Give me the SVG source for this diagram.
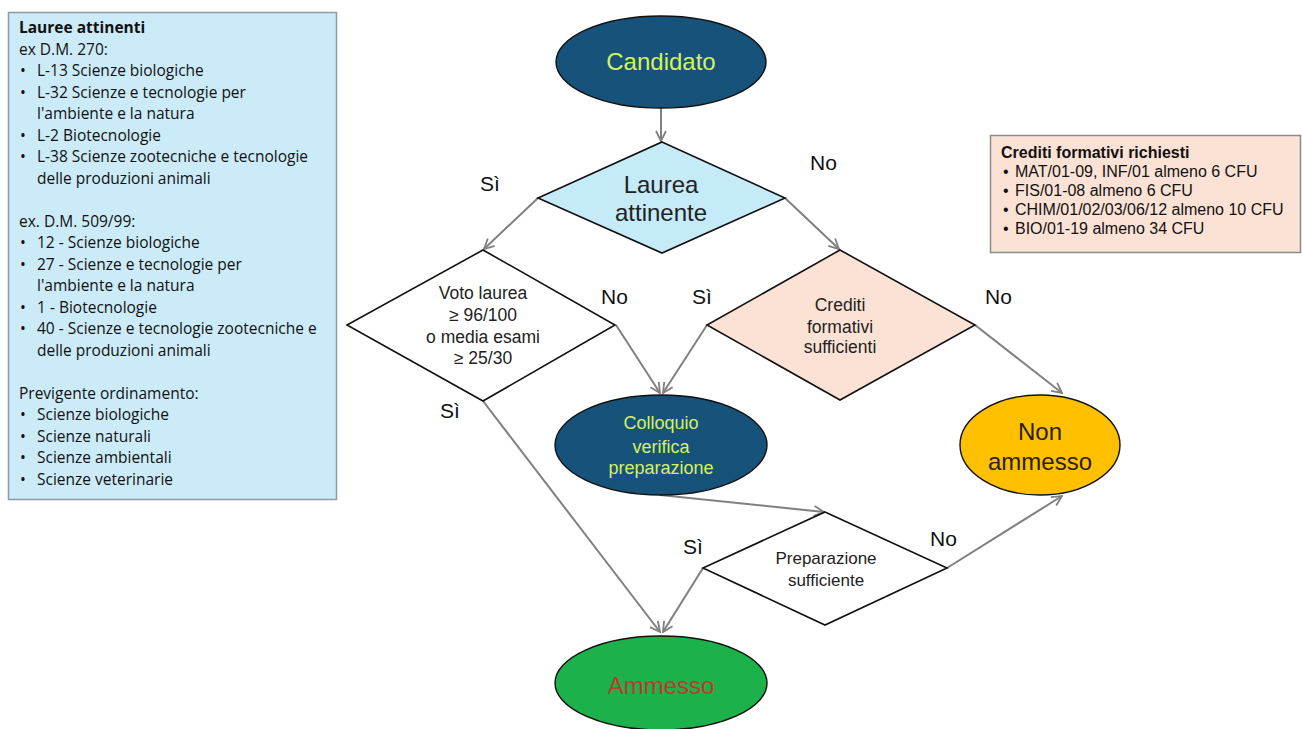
<svg xmlns="http://www.w3.org/2000/svg" width="1302" height="729" viewBox="0 0 1302 729">
<defs>
<marker id="arr" viewBox="0 0 12 12" refX="11" refY="6" markerWidth="12" markerHeight="12" markerUnits="userSpaceOnUse" orient="auto">
<path d="M1,1 L11,6 L1,11" fill="none" stroke="#808080" stroke-width="1.8"/>
</marker>
<style>
.box{font-family:"Open Sans",Lato,sans-serif;font-size:15.5px;fill:#111}
.rb{font-family:"Liberation Sans",Arial,sans-serif;font-size:16px;fill:#111}
.hb{font-weight:bold}
.fc{font-family:"Liberation Sans",Arial,sans-serif;text-anchor:middle}
.lbl{font-family:"Liberation Sans",Arial,sans-serif;font-size:21px;fill:#111}
.dia{stroke:#111;stroke-width:1.6}
.ell{stroke:#111;stroke-width:1.4}
.con line{stroke:#808080;stroke-width:2;marker-end:url(#arr)}
</style>
</defs>
<rect width="1302" height="729" fill="#fff"/>

<g id="lauree-box">
<rect x="8.5" y="12.5" width="328" height="487" fill="#CCEBF8" stroke="#8B9AA3" stroke-width="1.5"/>
<text class="box hb" x="19" y="33">Lauree attinenti</text>
<text class="box" x="19" y="54.5">ex D.M. 270:</text>
<g class="box">
<text x="20" y="76">•</text><text x="37" y="76">L-13 Scienze biologiche</text>
<text x="20" y="97.5">•</text><text x="37" y="97.5">L-32 Scienze e tecnologie per</text>
<text x="37" y="119">l'ambiente e la natura</text>
<text x="20" y="140.5">•</text><text x="37" y="140.5">L-2 Biotecnologie</text>
<text x="20" y="162">•</text><text x="37" y="162">L-38 Scienze zootecniche e tecnologie</text>
<text x="37" y="183.5">delle produzioni animali</text>
</g>
<text class="box" x="19" y="226.5">ex. D.M. 509/99:</text>
<g class="box">
<text x="20" y="248">•</text><text x="37" y="248">12 - Scienze biologiche</text>
<text x="20" y="269.5">•</text><text x="37" y="269.5">27 - Scienze e tecnologie per</text>
<text x="37" y="291">l'ambiente e la natura</text>
<text x="20" y="312.5">•</text><text x="37" y="312.5">1 - Biotecnologie</text>
<text x="20" y="334">•</text><text x="37" y="334">40 - Scienze e tecnologie zootecniche e</text>
<text x="37" y="355.5">delle produzioni animali</text>
</g>
<text class="box" x="19" y="398.5">Previgente ordinamento:</text>
<g class="box">
<text x="20" y="420">•</text><text x="37" y="420">Scienze biologiche</text>
<text x="20" y="441.5">•</text><text x="37" y="441.5">Scienze naturali</text>
<text x="20" y="463">•</text><text x="37" y="463">Scienze ambientali</text>
<text x="20" y="484.5">•</text><text x="37" y="484.5">Scienze veterinarie</text>
</g>
</g>

<g id="crediti-box">
<rect x="990.5" y="135.5" width="310" height="117" fill="#FBE2D5" stroke="#8B8B8B" stroke-width="1.5"/>
<text class="rb hb" x="1001" y="158">Crediti formativi richiesti</text>
<g class="rb">
<text x="1003" y="177">•</text><text x="1015" y="177">MAT/01-09, INF/01 almeno 6 CFU</text>
<text x="1003" y="196">•</text><text x="1015" y="196">FIS/01-08 almeno 6 CFU</text>
<text x="1003" y="215">•</text><text x="1015" y="215">CHIM/01/02/03/06/12 almeno 10 CFU</text>
<text x="1003" y="234">•</text><text x="1015" y="234">BIO/01-19 almeno 34 CFU</text>
</g>
</g>

<g class="con" id="connectors">
<line x1="661" y1="108" x2="661" y2="141"/>
<line x1="538" y1="198" x2="484" y2="249"/>
<line x1="785" y1="198" x2="839" y2="249"/>
<line x1="616" y1="325" x2="660" y2="393"/>
<line x1="707" y1="325" x2="663" y2="393"/>
<line x1="975" y1="325" x2="1062" y2="393"/>
<line x1="483" y1="401" x2="660" y2="632"/>
<line x1="660" y1="495" x2="824" y2="512"/>
<line x1="703" y1="568" x2="663" y2="632"/>
<line x1="947" y1="568" x2="1062" y2="496"/>
</g>

<g id="candidato">
<ellipse class="ell" cx="661" cy="62" rx="105" ry="46" fill="#17527A"/>
<text class="fc" x="661" y="70" font-size="24" fill="#D6F25E">Candidato</text>
</g>

<g id="laurea-attinente">
<polygon class="dia" points="662,142 785,198 662,253 538,198" fill="#C5EAF8"/>
<text class="fc" x="661" y="193" font-size="24" fill="#222">Laurea</text>
<text class="fc" x="661" y="221" font-size="24" fill="#222">attinente</text>
</g>

<g id="voto-laurea">
<polygon class="dia" points="483,250 615,325 483,401 347,325" fill="#fff"/>
<g class="fc" font-size="17.5" fill="#222">
<text x="483" y="299">Voto laurea</text>
<text x="483" y="321">≥ 96/100</text>
<text x="483" y="343">o media esami</text>
<text x="483" y="364">≥ 25/30</text>
</g>
</g>

<g id="crediti-sufficienti">
<polygon class="dia" points="840,250 975,325 840,400 707,325" fill="#FBE2D5"/>
<g class="fc" font-size="17.5" fill="#222">
<text x="840" y="311">Crediti</text>
<text x="840" y="333">formativi</text>
<text x="840" y="353">sufficienti</text>
</g>
</g>

<g id="colloquio">
<ellipse class="ell" cx="661" cy="445" rx="106" ry="50" fill="#17527A"/>
<g class="fc" font-size="18" fill="#D6F25E">
<text x="661" y="429">Colloquio</text>
<text x="661" y="453">verifica</text>
<text x="661" y="474">preparazione</text>
</g>
</g>

<g id="non-ammesso">
<ellipse class="ell" cx="1040" cy="445" rx="80" ry="50" fill="#FFC000"/>
<text class="fc" x="1040" y="440" font-size="24" fill="#2A1E00">Non</text>
<text class="fc" x="1040" y="470" font-size="24" fill="#2A1E00">ammesso</text>
</g>

<g id="preparazione">
<polygon class="dia" points="825,512 947,568 825,625 703,568" fill="#fff"/>
<text class="fc" x="826" y="564" font-size="17" fill="#222">Preparazione</text>
<text class="fc" x="826" y="586" font-size="17" fill="#222">sufficiente</text>
</g>

<g id="ammesso">
<ellipse class="ell" cx="661" cy="683" rx="106" ry="47" fill="#1DB14B"/>
<text class="fc" x="661" y="694" font-size="24" fill="#C0392B">Ammesso</text>
</g>

<g id="labels">
<text class="lbl" x="480" y="191">Sì</text>
<text class="lbl" x="810" y="170">No</text>
<text class="lbl" x="601" y="304">No</text>
<text class="lbl" x="692" y="304">Sì</text>
<text class="lbl" x="985" y="304">No</text>
<text class="lbl" x="440" y="418">Sì</text>
<text class="lbl" x="683" y="554">Sì</text>
<text class="lbl" x="930" y="546">No</text>
</g>
</svg>
